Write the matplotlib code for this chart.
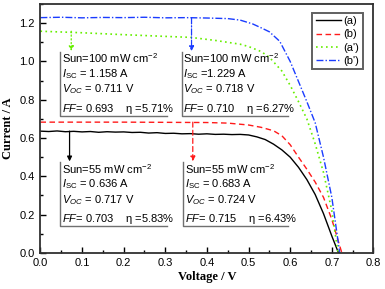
import matplotlib
matplotlib.use("Agg")
import matplotlib.pyplot as plt
from matplotlib.ticker import MultipleLocator

plt.rcParams["font.family"] = ["Liberation Sans", "DejaVu Sans"]
plt.rcParams["mathtext.fontset"] = "custom"
plt.rcParams["mathtext.rm"] = "Liberation Sans"
plt.rcParams["mathtext.it"] = "Liberation Sans:italic"

# I-V curves (Voltage / V, Current / A)
v_a = [0.00, 0.02, 0.04, 0.06, 0.08, 0.10, 0.12, 0.14, 0.16, 0.18, 0.20, 0.22,
       0.24, 0.26, 0.28, 0.30, 0.32, 0.34, 0.36, 0.38, 0.40, 0.42, 0.44, 0.46,
       0.48, 0.50, 0.52, 0.54, 0.56, 0.58, 0.60, 0.62, 0.64, 0.66, 0.68, 0.70, 0.716]
i_a = [0.636, 0.634, 0.637, 0.633, 0.635, 0.632, 0.634, 0.630, 0.633, 0.631, 0.632, 0.629,
       0.630, 0.626, 0.628, 0.624, 0.625, 0.622, 0.623, 0.620, 0.622, 0.619, 0.620, 0.618,
       0.619, 0.616, 0.606, 0.592, 0.568, 0.538, 0.500, 0.447, 0.383, 0.305, 0.205, 0.088, 0.0]

v_b = [0.00, 0.10, 0.20, 0.30, 0.40, 0.45, 0.50, 0.53, 0.56, 0.58, 0.60, 0.62,
       0.64, 0.66, 0.68, 0.70, 0.724]
i_b = [0.683, 0.683, 0.683, 0.682, 0.681, 0.678, 0.668, 0.656, 0.638, 0.612, 0.565, 0.500,
       0.437, 0.370, 0.290, 0.175, 0.0]

v_a2 = [0.00, 0.10, 0.20, 0.30, 0.36, 0.42, 0.48, 0.50, 0.53, 0.55, 0.58, 0.60,
        0.62, 0.64, 0.66, 0.68, 0.70, 0.715]
i_a2 = [1.158, 1.150, 1.140, 1.131, 1.126, 1.110, 1.090, 1.078, 1.052, 1.022, 0.950, 0.875,
        0.790, 0.700, 0.570, 0.420, 0.220, 0.0]

v_b2 = [0.00, 0.05, 0.10, 0.15, 0.20, 0.25, 0.30, 0.35, 0.40, 0.45, 0.48, 0.51,
        0.53, 0.55, 0.575, 0.60, 0.62, 0.64, 0.66, 0.68, 0.70, 0.719]
i_b2 = [1.229, 1.231, 1.228, 1.230, 1.229, 1.231, 1.228, 1.229, 1.227, 1.224, 1.216, 1.196,
        1.176, 1.155, 1.105, 1.000, 0.895, 0.790, 0.680, 0.500, 0.290, 0.0]

labels = ["(a)", "(b)", "(a')", "(b')"]

box_texts = [
    ["Sun=100 mW cm$^{-2}$", "$I_{\\rm SC}$ = 1.158 A", "$V_{OC}$ = 0.711 V",
     "$FF$= 0.693    \u03b7 =5.71%"],
    ["Sun=100 mW cm$^{-2}$", "$I_{\\rm SC}$ =1.229 A", "$V_{OC}$ = 0.718 V",
     "$FF$= 0.710    \u03b7 =6.27%"],
    ["Sun=55 mW cm$^{-2}$", "$I_{\\rm SC}$ = 0.636 A", "$V_{OC}$ = 0.717 V",
     "$FF$= 0.703    \u03b7 =5.83%"],
    ["Sun=55 mW cm$^{-2}$", "$I_{\\rm SC}$ = 0.683 A", "$V_{OC}$ = 0.724 V",
     "$FF$= 0.715    \u03b7 =6.43%"],
]

c_a, c_b, c_a2, c_b2 = "black", "#ff1a1a", "#66ee00", "#1a3cff"
ls_a, ls_b, ls_a2, ls_b2 = "-", (0, (4, 2.5)), (0, (1, 2)), (0, (5, 1.5, 1, 1.5))

fig = plt.figure(figsize=(3.85, 2.89), dpi=100)
ax = fig.add_axes([0.105, 0.125, 0.865, 0.861])

ax.plot(v_a, i_a, color=c_a, lw=1.0, ls=ls_a, label=labels[0])
ax.plot(v_b, i_b, color=c_b, lw=1.0, ls=ls_b, label=labels[1])
ax.plot(v_a2, i_a2, color=c_a2, lw=1.2, ls=ls_a2, label=labels[2])
ax.plot(v_b2, i_b2, color=c_b2, lw=1.0, ls=ls_b2, label=labels[3])

# box: left x, top y, right end of bottom line, arrow x, arrow start y, colour, style
boxes = [
    (0.048, 1.050, 0.305, 0.074, i_a2[0], c_a2, ls_a2),
    (0.339, 1.050, 0.594, 0.363, i_b2[0], c_b2, ls_b2),
    (0.048, 0.474, 0.305, 0.070, i_a[0], c_a, ls_a),
    (0.343, 0.474, 0.594, 0.366, i_b[0], c_b, ls_b),
]
offsets = [0.034, 0.114, 0.196, 0.298]  # line centres below box top
box_h = 0.334
for lines, (x0, y1, x1, xa, ya, col, ls) in zip(box_texts, boxes):
    y0 = y1 - box_h
    ax.plot([x0, x0, x1], [y1, y0, y0], color="#707070", lw=1.0)
    ax.annotate("", xy=(xa, y1 + 0.004), xytext=(xa, ya),
                arrowprops=dict(arrowstyle="-|>", color=col, lw=0.9, ls=ls,
                                mutation_scale=7, shrinkA=0, shrinkB=0))
    for off, t in zip(offsets, lines):
        ax.text(x0 + 0.004, y1 - off, t, fontsize=8,
                va="center", ha="left", color="black")

ax.set_xlim(0.0, 0.8)
ax.set_ylim(0.0, 1.3)
ax.xaxis.set_major_locator(MultipleLocator(0.1))
ax.xaxis.set_minor_locator(MultipleLocator(0.05))
ax.yaxis.set_major_locator(MultipleLocator(0.2))
ax.yaxis.set_minor_locator(MultipleLocator(0.1))
ax.tick_params(which="both", direction="in", labelsize=8, width=1.0)
ax.tick_params(which="major", length=4, pad=4)
ax.tick_params(which="minor", length=2.5)
for s in ax.spines.values():
    s.set_linewidth(1.3)
    s.set_color("#303030")

ax.set_xlabel("Voltage / V", fontsize=9, fontweight="bold",
              family="Liberation Serif", labelpad=2)
ax.set_ylabel("Current / A", fontsize=9, fontweight="bold",
              family="Liberation Serif", labelpad=4)

leg = ax.legend(loc="upper right", fontsize=8, fancybox=False, framealpha=1,
                edgecolor="#606060", handlelength=2.3, handletextpad=0.2,
                labelspacing=0.3, borderpad=0.3, borderaxespad=0,
                bbox_to_anchor=(0.968, 0.965))
leg.get_frame().set_linewidth(1.4)

fig.savefig("out.png", dpi=100)
